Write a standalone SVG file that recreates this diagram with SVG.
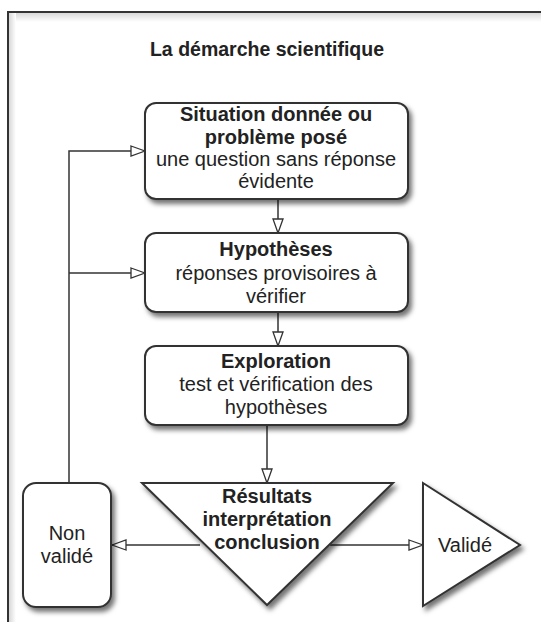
<svg xmlns="http://www.w3.org/2000/svg" width="541" height="622" viewBox="0 0 541 622">
<defs>
<filter id="sh" x="-20%" y="-20%" width="150%" height="150%">
<feDropShadow dx="3" dy="4" stdDeviation="2.5" flood-color="#000" flood-opacity="0.55"/>
</filter>
<linearGradient id="tg" x1="0" y1="0" x2="0" y2="1"><stop offset="0" stop-color="#d8d8d8"/><stop offset="1" stop-color="#ffffff"/></linearGradient>
<linearGradient id="lg" x1="0" y1="0" x2="1" y2="0"><stop offset="0" stop-color="#d8d8d8"/><stop offset="1" stop-color="#ffffff"/></linearGradient>
<marker id="ah" markerWidth="16" markerHeight="12" refX="15" refY="6" orient="auto" markerUnits="userSpaceOnUse">
<path d="M1,1 L15,6 L1,11 Z" fill="#fff" stroke="#333" stroke-width="1.3"/>
</marker>
<style>
.n{fill:#fff;stroke:#333;stroke-width:2}
.c{fill:none;stroke:#333;stroke-width:1.5}
text{font-family:"Liberation Sans",Arial,sans-serif;font-size:20px;fill:#222;text-anchor:middle}
.b{font-weight:bold}
.t{font-size:19.5px}
</style>
</defs>
<rect width="541" height="622" fill="#fff"/>
<g id="frame">
<rect x="9" y="13" width="532" height="9" fill="url(#tg)"/>
<rect x="9" y="13" width="7" height="609" fill="url(#lg)"/>
<path d="M8,622 V12 H541" fill="none" stroke="#333" stroke-width="2"/>
</g>
<text id="title" class="b t" x="267" y="56">La démarche scientifique</text>
<g id="connectors">
<path class="c" d="M278,199 V233" marker-end="url(#ah)"/>
<path class="c" d="M278,312 V346" marker-end="url(#ah)"/>
<path class="c" d="M267,425 V483" marker-end="url(#ah)"/>
<path class="c" d="M200,545 H112" marker-end="url(#ah)"/>
<path class="c" d="M330,545 H423" marker-end="url(#ah)"/>
<path class="c" d="M69,483 V151 H145" marker-end="url(#ah)"/>
<path class="c" d="M69,273 H145" marker-end="url(#ah)"/>
</g>
<g id="situation">
<rect class="n" x="145" y="103" width="263" height="96" rx="11" filter="url(#sh)"/>
<text class="b" x="276" y="121">Situation donnée ou</text>
<text class="b" x="276" y="144">problème posé</text>
<text x="276" y="166">une question sans réponse</text>
<text x="276" y="188">évidente</text>
</g>
<g id="hypotheses">
<rect class="n" x="145" y="233" width="263" height="79" rx="11" filter="url(#sh)"/>
<text class="b" x="276" y="256">Hypothèses</text>
<text x="276" y="280">réponses provisoires à</text>
<text x="276" y="303">vérifier</text>
</g>
<g id="exploration">
<rect class="n" x="145" y="346" width="263" height="79" rx="11" filter="url(#sh)"/>
<text class="b" x="276" y="368">Exploration</text>
<text x="276" y="391">test et vérification des</text>
<text x="276" y="414">hypothèses</text>
</g>
<g id="resultats">
<path class="n" d="M142,483 H393 L267,605 Z" filter="url(#sh)"/>
<text class="b" x="267" y="503">Résultats</text>
<text class="b" x="267" y="526">interprétation</text>
<text class="b" x="267" y="549">conclusion</text>
</g>
<g id="nonvalide">
<rect class="n" x="23" y="483" width="88" height="124" rx="13" filter="url(#sh)"/>
<text x="67" y="540">Non</text>
<text x="67" y="563">validé</text>
</g>
<g id="valide">
<path class="n" d="M423,483 L520,545 L423,606 Z" filter="url(#sh)"/>
<text x="465" y="552">Validé</text>
</g>
</svg>
